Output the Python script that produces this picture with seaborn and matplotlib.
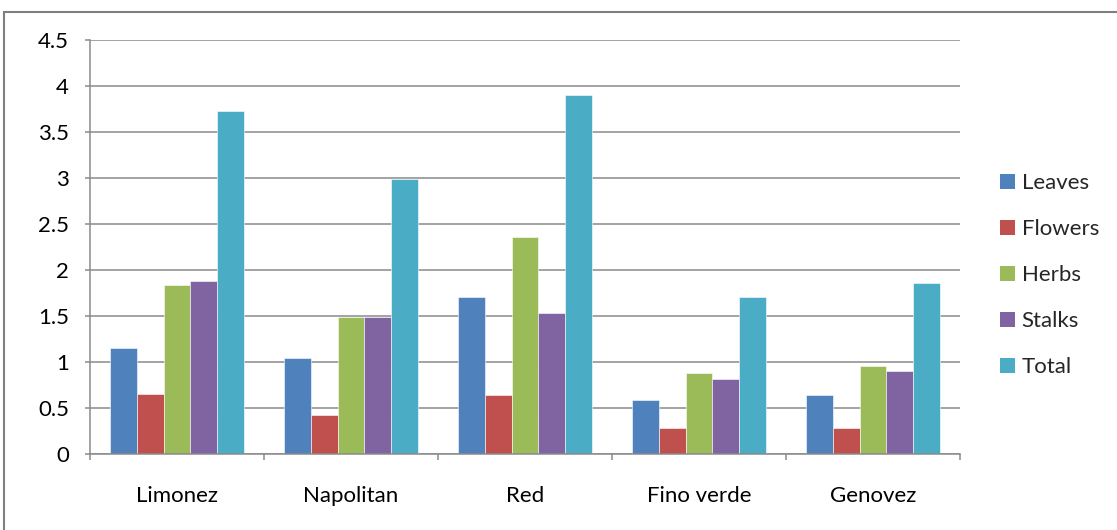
import matplotlib
matplotlib.use("Agg")
import matplotlib.pyplot as plt
from matplotlib.patches import Rectangle
import numpy as np
import pandas as pd
import seaborn as sns

varieties = ["Limonez", "Napolitan", "Red", "Fino verde", "Genovez"]
parts = ["Leaves", "Flowers", "Herbs", "Stalks", "Total"]
leaves = [1.16, 1.05, 1.71, 0.59, 0.65]
flowers = [0.66, 0.43, 0.64, 0.29, 0.29]
herbs = [1.84, 1.49, 2.36, 0.88, 0.96]
stalks = [1.88, 1.49, 1.54, 0.82, 0.91]
total = [3.73, 2.99, 3.91, 1.71, 1.86]
colors = ["#4F81BD", "#C0504D", "#9BBB59", "#8064A2", "#4BACC6"]
yticks = [0, 0.5, 1, 1.5, 2, 2.5, 3, 3.5, 4, 4.5]
ytick_labels = ["0", "0.5", "1", "1.5", "2", "2.5", "3", "3.5", "4", "4.5"]

series = [leaves, flowers, herbs, stalks, total]
df = pd.DataFrame({
    "variety": varieties * len(parts),
    "part": [p for p in parts for _ in varieties],
    "value": [v for s in series for v in s],
})

sns.set_theme(style="white")
plt.rcParams["font.family"] = ["Lato", "DejaVu Sans"]
FS = 16

fig = plt.figure(figsize=(11.17, 5.30), dpi=100)
ax = fig.add_axes([0.0806, 0.1428, 0.7788, 0.7812])

sns.barplot(data=df, x="variety", y="value", hue="part", order=varieties,
            hue_order=parts, palette=colors, width=0.765, gap=0,
            edgecolor="white", linewidth=0.4, saturation=1, ax=ax, legend=True)

grid_color = "#8a8a8a"
ax.set_ylim(0, 4.5)
ax.set_xlim(-0.5, len(varieties) - 0.5)
ax.set_yticks(yticks)
ax.set_yticklabels(ytick_labels, fontsize=FS, color="black")
ax.yaxis.grid(True, color=grid_color, linewidth=1.1)
ax.set_axisbelow(True)
ax.set_xlabel("")
ax.set_ylabel("")

ax.set_xticks(range(len(varieties)))
ax.set_xticklabels(varieties, fontsize=FS, color="black")
ax.set_xticks(np.arange(-0.5, len(varieties)), minor=True)
ax.tick_params(axis="x", which="major", length=0, pad=23)
ax.tick_params(axis="x", which="minor", length=4.3, width=1.1, color=grid_color,
               direction="out", bottom=True)
ax.tick_params(axis="y", length=3.6, width=1.1, color=grid_color, direction="out",
               left=True, pad=11.5)

for side in ["top", "right"]:
    ax.spines[side].set_visible(False)
for side in ["left", "bottom"]:
    ax.spines[side].set_color(grid_color)
    ax.spines[side].set_linewidth(1.1)

leg = ax.legend(loc="center left", bbox_to_anchor=(1.033, 0.432), frameon=False,
                fontsize=FS, handlelength=0.68, handleheight=0.68, borderpad=0,
                labelspacing=1.17, handletextpad=0.3)
for h in leg.legend_handles:
    h.set_edgecolor("none")

fig.patches.append(Rectangle((4 / 1117, -0.1), 1.2, (530 - 12) / 530 + 0.1,
                             transform=fig.transFigure, fill=False,
                             edgecolor="#7f7f7f", linewidth=1.5))

fig.savefig("out.png", dpi=100)
